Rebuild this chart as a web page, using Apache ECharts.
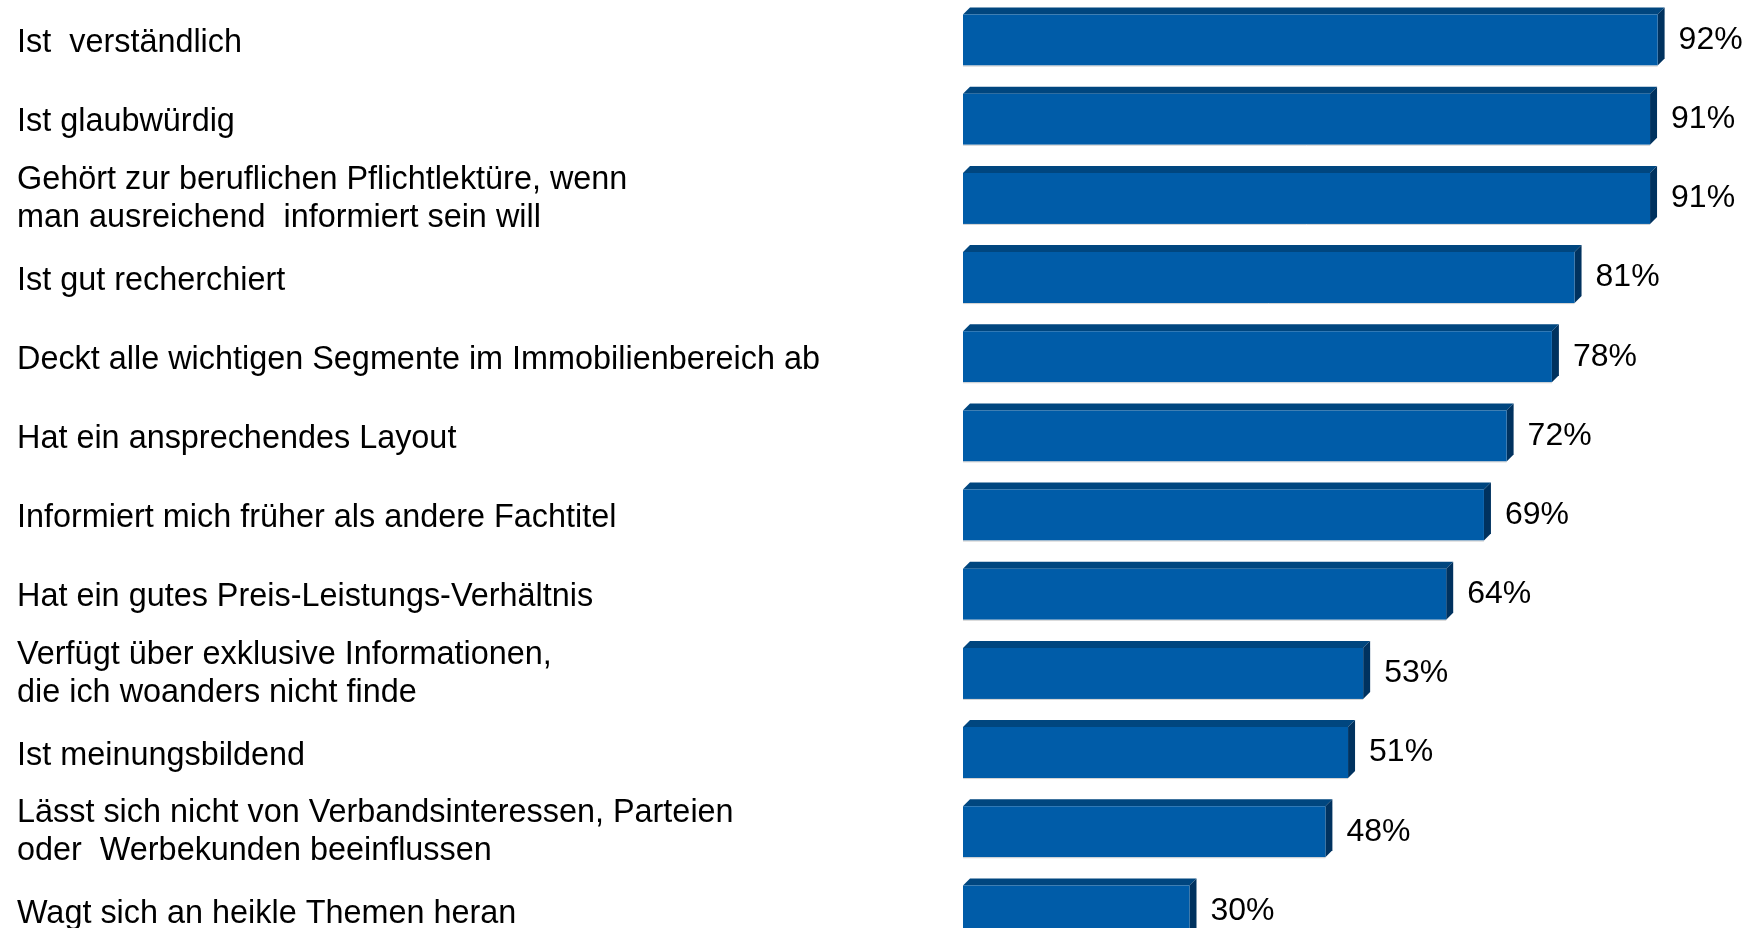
<!DOCTYPE html>
<html>
<head>
<meta charset="utf-8">
<script src="https://cdn.jsdelivr.net/npm/echarts@6/dist/echarts.min.js"></script>
<style>
  html, body { margin: 0; padding: 0; background: #fff; }
  #chart { width: 1747px; height: 928px; }
</style>
</head>
<body>
<div id="chart"></div>
<script>
const categories = [
  'Ist  verständlich',
  'Ist glaubwürdig',
  'Gehört zur beruflichen Pflichtlektüre, wenn\nman ausreichend  informiert sein will',
  'Ist gut recherchiert',
  'Deckt alle wichtigen Segmente im Immobilienbereich ab',
  'Hat ein ansprechendes Layout',
  'Informiert mich früher als andere Fachtitel',
  'Hat ein gutes Preis-Leistungs-Verhältnis',
  'Verfügt über exklusive Informationen,\ndie ich woanders nicht finde',
  'Ist meinungsbildend',
  'Lässt sich nicht von Verbandsinteressen, Parteien\noder  Werbekunden beeinflussen',
  'Wagt sich an heikle Themen heran'
];
const values = [92, 91, 91, 81, 78, 72, 69, 64, 53, 51, 48, 30];

const FONT = '"Liberation Sans", Arial, sans-serif';
const frontColor = '#005ca8';
const topColor = '#00467f';
const sideColor = '#00325f';

const chart = echarts.init(document.getElementById('chart'));

// front face + 3d top/side faces, label to the right
function renderBar(params, api) {
  const v = api.value(0);
  const c = api.value(1);
  const p0 = api.coord([0, c]);
  const p1 = api.coord([v, c]);
  const h = 51, d = 7;
  const x0 = p0[0], x1 = p1[0];
  const yt = p0[1] - h / 2, yb = p0[1] + h / 2;
  return {
    type: 'group',
    children: [
      { type: 'polygon', shape: { points: [[x0, yt], [x0 + d, yt - d], [x1 + d, yt - d], [x1, yt]] }, style: { fill: topColor } },
      { type: 'polygon', shape: { points: [[x1, yt], [x1 + d, yt - d], [x1 + d, yb - d], [x1, yb]] }, style: { fill: sideColor } },
      { type: 'rect', shape: { x: x0, y: yt, width: x1 - x0, height: h }, style: { fill: frontColor } },
      { type: 'line', shape: { x1: x0, y1: yb + 0.5, x2: x1, y2: yb + 0.5 }, style: { stroke: '#d0d0d0', lineWidth: 1 } },
      { type: 'text', x: x1 + 21, y: p0[1], style: { text: v + '%', font: '32px ' + FONT, fill: '#000', verticalAlign: 'middle' } }
    ]
  };
}

const labelStyle = { color: '#000', fontFamily: FONT, fontSize: 32.4, lineHeight: 38.5 };

chart.setOption({
  animation: false,
  backgroundColor: '#fff',
  grid: { left: 963, top: 0.5, width: 755, height: 950, outerBoundsMode: 'none', containLabel: false },
  xAxis: {
    type: 'value', min: 0, max: 100, show: false
  },
  yAxis: {
    type: 'category',
    data: categories,
    inverse: true,
    axisLine: { show: false },
    axisTick: { show: false },
    splitLine: { show: false },
    axisLabel: {
      align: 'left',
      margin: 946,
      color: '#000',
      hideOverlap: false,
      // labels sit a few px below the bar centre in the original
      formatter: v => v.split('\n').map((s, i) => (i === 0 ? '{f|' : '{a|') + s + '}').join('\n'),
      rich: {
        f: Object.assign({}, labelStyle, { padding: [6, 0, 0, 0] }),
        a: Object.assign({}, labelStyle, { lineHeight: 42.5 })
      }
    }
  },
  series: [{
    type: 'custom',
    renderItem: renderBar,
    encode: { x: 0, y: 1 },
    clip: false,
    data: values.map((v, i) => [v, i])
  }]
});
</script>
</body>
</html>
